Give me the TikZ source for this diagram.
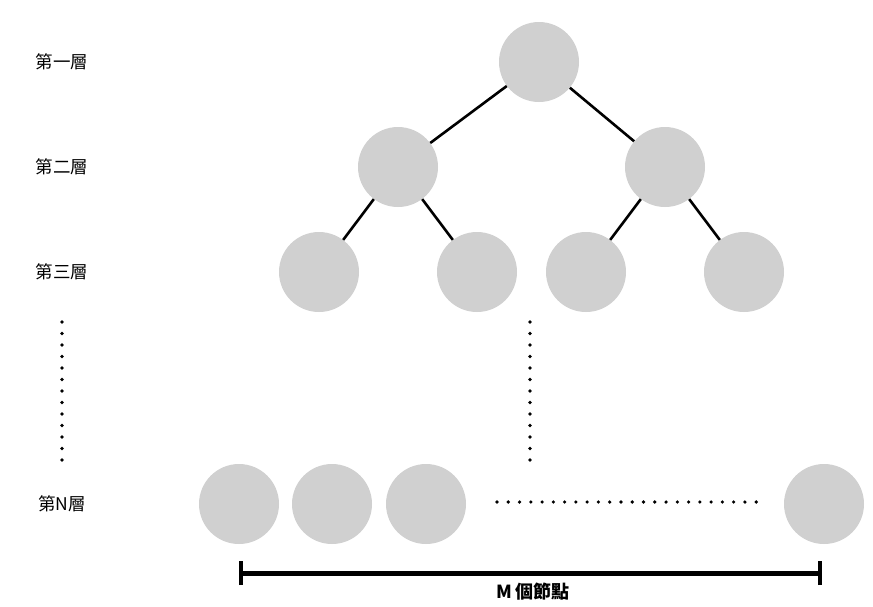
\documentclass[tikz,border=0pt]{standalone}
\usepackage{fontspec}
\newfontfamily\cjk{Noto Sans CJK TC}
\begin{document}
\begin{tikzpicture}[x=1pt,y=-1pt,
  treenode/.style={circle,fill=nodegray,minimum size=80pt,inner sep=0pt},
  link/.style={line width=2.6pt,black},
  levellabel/.style={font=\cjk\fontsize{17.5}{20}\selectfont,anchor=center},
]
\definecolor{nodegray}{RGB}{208,208,208}
\useasboundingbox (0,0) rectangle (873,606);

% level labels
\node[levellabel] (l1) at (62,62) {第一層};
\node[levellabel] (l2) at (62,167) {第二層};
\node[levellabel] (l3) at (62,272) {第三層};
\node[levellabel] (ln) at (62,504) {第N層};

% tree nodes
\node[treenode] (r) at (539,62) {};
\node[treenode] (a) at (398,167) {};
\node[treenode] (b) at (665,167) {};
\node[treenode] (a1) at (319,272) {};
\node[treenode] (a2) at (477,272) {};
\node[treenode] (b1) at (586,272) {};
\node[treenode] (b2) at (744,272) {};

% bottom level
\node[treenode] (n1) at (239,504) {};
\node[treenode] (n2) at (332,504) {};
\node[treenode] (n3) at (426,504) {};
\node[treenode] (nm) at (824,504) {};

% edges
\draw[link] (r) -- (a);
\draw[link] (r) -- (b);
\draw[link] (a) -- (a1);
\draw[link] (a) -- (a2);
\draw[link] (b) -- (b1);
\draw[link] (b) -- (b2);

% ellipsis dots
\foreach \i in {0,...,12} {
  \fill (62,322+11.5*\i) circle (1.8);
  \fill (530,322+11.5*\i) circle (1.8);
}
\foreach \i in {0,...,23} {
  \fill (497+11.27*\i,502) circle (1.8);
}

% width bracket
\coordinate (bl) at (241,573);
\coordinate (br) at (820,573);
\draw[line width=5pt] (bl) -- (br);
\draw[line width=4pt] ([yshift=-12]bl) -- ([yshift=12]bl);
\draw[line width=4pt] ([yshift=-12]br) -- ([yshift=12]br);
\node[font=\cjk\bfseries\fontsize{18}{20}\selectfont] (m) at (533,592) {M 個節點};
\end{tikzpicture}
\end{document}
